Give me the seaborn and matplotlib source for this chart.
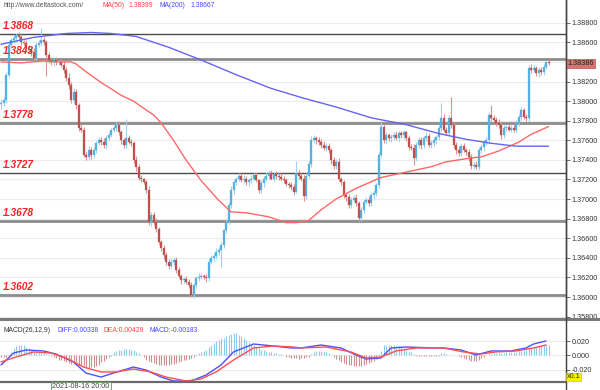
import matplotlib
matplotlib.use("Agg")
import matplotlib.pyplot as plt
import seaborn as sns
import pandas as pd
from matplotlib.lines import Line2D

# ---------------- data ----------------
closes = [
    1.3798, 1.3801, 1.3827, 1.3857, 1.3862, 1.3864, 1.3867, 1.3865, 1.3860, 1.3859,
    1.3855, 1.3852, 1.3850, 1.3844, 1.3857, 1.3859, 1.3862, 1.3860, 1.3847, 1.3842,
    1.3840, 1.3842, 1.3840, 1.3840, 1.3837, 1.3832, 1.3824, 1.3816, 1.3801, 1.3809,
    1.3796, 1.3773, 1.3771, 1.3745, 1.3743, 1.3750, 1.3745, 1.3750, 1.3757, 1.3760,
    1.3758, 1.3755, 1.3762, 1.3765, 1.3771, 1.3773, 1.3776, 1.3768, 1.3760, 1.3755,
    1.3762, 1.3758, 1.3757, 1.3740, 1.3733, 1.3722, 1.3720, 1.3717, 1.3709, 1.3677,
    1.3684, 1.3677, 1.3669, 1.3656, 1.3650, 1.3643, 1.3636, 1.3632, 1.3636, 1.3638,
    1.3628, 1.3622, 1.3617, 1.3618, 1.3615, 1.3612, 1.3602, 1.3612, 1.3619, 1.3621,
    1.3622, 1.3621, 1.3619, 1.3636, 1.3640, 1.3642, 1.3646, 1.3648, 1.3653, 1.3668,
    1.3677, 1.3694, 1.3709, 1.3717, 1.3721, 1.3724, 1.3719, 1.3721, 1.3717, 1.3719,
    1.3721, 1.3725, 1.3719, 1.3709, 1.3716, 1.3721, 1.3724, 1.3727, 1.3721, 1.3726,
    1.3724, 1.3723, 1.3721, 1.3719, 1.3715, 1.3714, 1.3712, 1.3707, 1.3727, 1.3724,
    1.3721, 1.3703, 1.3724, 1.3736, 1.3760, 1.3762, 1.3760, 1.3758, 1.3755, 1.3752,
    1.3754, 1.3750, 1.3740, 1.3734, 1.3738, 1.3720, 1.3717, 1.3704, 1.3702, 1.3694,
    1.3699, 1.3701, 1.3696, 1.3681, 1.3689, 1.3697, 1.3699, 1.3696, 1.3704, 1.3706,
    1.3714, 1.3745, 1.3774, 1.3760, 1.3765, 1.3762, 1.3763, 1.3765, 1.3762, 1.3767,
    1.3765, 1.3768, 1.3762, 1.3753, 1.3752, 1.3742, 1.3755, 1.3760, 1.3755, 1.3762,
    1.3764, 1.3755, 1.3757, 1.3760, 1.3763, 1.3773, 1.3783, 1.3771, 1.3767, 1.3783,
    1.3776, 1.3755, 1.3750, 1.3747, 1.3754, 1.3750, 1.3748, 1.3743, 1.3734, 1.3735,
    1.3733, 1.3750, 1.3753, 1.3758, 1.3760, 1.3786, 1.3783, 1.3781, 1.3778, 1.3776,
    1.3765, 1.3773, 1.3774, 1.3771, 1.3773, 1.3771, 1.3778, 1.3784, 1.3791, 1.3784,
    1.3783, 1.3834, 1.3832, 1.3834, 1.3829, 1.3832, 1.3830, 1.3835, 1.3840, 1.38386,
]
first_open = 1.3797

wick_hi_pips = [
    4, 3, 3, 4, 2, 3, 3, 4, 3, 2, 3, 2, 3, 4, 3, 3, 13, 3, 2, 3,
    3, 2, 3, 2, 3, 4, 3, 5, 3, 4, 3, 2, 4, 3, 3, 4, 3, 3, 2, 3,
    3, 4, 3, 3, 2, 3, 3, 4, 3, 2, 20, 3, 3, 2, 4, 3, 3, 2, 3, 4,
    3, 3, 4, 3, 2, 3, 3, 3, 4, 3, 3, 3, 2, 3, 4, 3, 3, 2, 3, 4,
    3, 2, 3, 4, 3, 3, 4, 3, 3, 2, 3, 3, 4, 3, 2, 3, 3, 4, 3, 3,
    4, 3, 3, 2, 3, 3, 4, 3, 3, 2, 3, 3, 4, 3, 3, 2, 3, 3, 12, 3,
    3, 4, 3, 3, 4, 3, 2, 3, 3, 4, 3, 3, 2, 3, 3, 4, 3, 3, 2, 3,
    3, 3, 4, 2, 3, 3, 3, 4, 3, 3, 2, 3, 5, 3, 3, 2, 3, 3, 4, 3,
    3, 3, 2, 3, 3, 4, 3, 3, 3, 2, 4, 3, 3, 3, 2, 3, 15, 4, 3, 3,
    21, 3, 3, 4, 3, 3, 2, 3, 3, 3, 4, 3, 3, 2, 3, 3, 10, 3, 3, 4,
    3, 3, 2, 3, 3, 4, 3, 3, 3, 2, 3, 3, 4, 3, 2, 3, 3, 3, 2, 2,
]
wick_lo_pips = [
    5, 3, 3, 2, 3, 3, 4, 3, 3, 2, 3, 3, 4, 3, 3, 2, 3, 3, 21, 3,
    3, 4, 3, 3, 2, 3, 3, 4, 3, 3, 4, 3, 3, 2, 3, 3, 4, 3, 3, 2,
    3, 3, 4, 3, 2, 3, 3, 3, 4, 3, 3, 2, 3, 3, 4, 3, 3, 2, 3, 3,
    4, 3, 3, 2, 3, 4, 3, 3, 2, 3, 3, 3, 4, 3, 2, 3, 2, 3, 3, 3,
    3, 3, 4, 3, 2, 3, 3, 3, 17, 3, 3, 2, 3, 4, 3, 3, 2, 3, 3, 4,
    3, 3, 2, 3, 3, 4, 3, 3, 2, 3, 3, 4, 3, 3, 2, 3, 3, 3, 1, 3,
    3, 5, 3, 2, 3, 3, 4, 3, 3, 2, 3, 3, 4, 3, 3, 2, 3, 3, 4, 3,
    3, 2, 3, 4, 3, 3, 2, 3, 3, 4, 3, 3, 2, 3, 3, 3, 4, 3, 2, 3,
    3, 4, 3, 3, 2, 7, 3, 3, 4, 3, 3, 2, 3, 3, 4, 3, 3, 3, 2, 3,
    3, 3, 4, 3, 3, 2, 3, 4, 3, 3, 2, 3, 3, 4, 3, 3, 3, 2, 3, 3,
    4, 3, 3, 2, 3, 3, 4, 3, 3, 2, 3, 3, 3, 2, 3, 4, 3, 3, 2, 2,
]

ma50_idx = [0, 8, 17, 22, 28, 30, 34, 40, 45, 48, 53, 58, 61, 64, 69, 74, 80, 87, 92,
            98, 107, 114, 118, 123, 128, 134, 142, 152, 161, 172, 178, 188, 192,
            199, 207, 212, 219]
ma50_val = [1.3840, 1.3839, 1.3841, 1.3840, 1.3840, 1.3838, 1.3830, 1.3819, 1.3811,
            1.3806, 1.3800, 1.3791, 1.3786, 1.3778, 1.3760, 1.3740, 1.3719, 1.3699, 1.3687,
            1.3686, 1.3682, 1.3676, 1.3676, 1.3678, 1.3689, 1.3700, 1.3711, 1.3722,
            1.3727, 1.3733, 1.3738, 1.3742, 1.3743, 1.3749, 1.3758, 1.3766, 1.3774]

ma200_idx = [0, 13, 26, 36, 44, 54, 67, 80, 94, 108, 121, 134, 148, 162, 175, 186,
             196, 206, 219]
ma200_val = [1.3858, 1.3865, 1.3869, 1.3870, 1.3869, 1.3866, 1.3855, 1.3842, 1.3827,
             1.3813, 1.3803, 1.3794, 1.3783, 1.3776, 1.3767, 1.3761, 1.3757, 1.3754,
             1.3754]

diff_idx = [0, 5, 10, 17, 22, 29, 34, 40, 45, 53, 58, 64, 69, 76, 82, 88, 93, 101,
            109, 116, 120, 128, 136, 142, 146, 152, 156, 162, 173, 177, 184, 190,
            196, 204, 210, 213, 218]
diff_val = [-0.0137, 0.0032, 0.0075, 0.0061, 0.0018, -0.0094, -0.0250, -0.0306,
            -0.0250, -0.0165, -0.0207, -0.0306, -0.0362, -0.0362, -0.0278, -0.0137,
            0.0047, 0.0159, 0.0131, 0.0103, 0.0103, 0.0145, 0.0103, 0.0004, -0.0052,
            -0.0038, 0.0103, 0.0117, 0.0103, 0.0103, 0.0075, 0.0004, 0.0061, 0.0061,
            0.0103, 0.0159, 0.0202]

dea_idx = [0, 6, 13, 20, 26, 33, 40, 46, 53, 60, 66, 74, 80, 86, 93, 101, 109, 117,
           120, 130, 140, 146, 152, 158, 166, 177, 185, 192, 198, 206, 213, 218]
dea_val = [-0.0094, -0.0024, 0.0047, 0.0032, -0.0038, -0.0165, -0.0235, -0.0235,
           -0.0193, -0.0235, -0.0306, -0.0362, -0.0334, -0.0235, -0.0066, 0.0103,
           0.0131, 0.0117, 0.0103, 0.0117, 0.0047, -0.0038, -0.0024, 0.0061, 0.0103,
           0.0103, 0.0047, 0.0018, 0.0047, 0.0061, 0.0103, 0.0145]

# MACD histogram per candle, in thousandths of the panel's axis units
macd_hist = [
    -3, -3, -3, -3, 4, 10, 13, 15, 15, 14, 12, 10, 7, 4, 3, 3, 3, 3, 2, 1,
    -1, -2, -4, -6, -7, -8, -10, -11, -12, -12, -13, -14, -15, -15, -17, -18, -17, -16, -15, -13,
    -10, -8, -5, -2, -1, 4, 6, 8, 8, 9, 9, 9, 8, 7, 5, 3, 1, -2, -6, -8,
    -10, -11, -12, -13, -13, -13, -13, -13, -12, -12, -11, -9, -8, -7, -6, -5, -4, -3, 2, 3,
    5, 6, 8, 11, 14, 17, 20, 22, 24, 25, 27, 28, 30, 31, 31, 29, 27, 25, 22, 19,
    16, 14, 12, 10, 8, 7, 6, 5, 4, 3, 3, 2, 2, 1, -2, -3, -4, -4, -4, -5,
    -4, -4, -3, -2, 2, 5, 6, 6, 6, 5, 5, 3, 1, -3, -5, -7, -9, -11, -12, -13,
    -14, -15, -15, -15, -15, -14, -12, -11, -9, -8, -5, -2, 6, 15, 15, 15, 14, 14, 13, 13,
    12, 10, 8, 6, 4, 2, -1, -1, -1, -1, -1, -1, -1, -1, -1, -1, 3, 3, 2, 1,
    1, 1, 1, -1, -3, -4, -5, -6, -8, -8, -8, -6, -4, -2, 1, 2, 2, 3, 3, 3,
    3, 3, 4, 4, 4, 5, 5, 6, 6, 7, 8, 9, 10, 11, 12, 13, 13, 14, 14, 14,
]

levels = [1.3868, 1.3843, 1.3778, 1.3727, 1.3678, 1.3602]
level_labels = ["1.3868", "1.3843", "1.3778", "1.3727", "1.3678", "1.3602"]
level_dark = [True, False, False, True, False, False]

price_ticks = [1.358, 1.360, 1.362, 1.364, 1.366, 1.368, 1.370, 1.372, 1.374,
               1.376, 1.378, 1.380, 1.382, 1.384, 1.386, 1.388]
# 1.38400 sits under the last-price tag in the reference, so it is not shown
price_tick_labels = ["1.35800", "1.36000", "1.36200", "1.36400", "1.36600", "1.36800",
                     "1.37000", "1.37200", "1.37400", "1.37600", "1.37800", "1.38000",
                     "1.38200", "", "1.38600", "1.38800"]
macd_ticks = [0.02, 0.0, -0.02]
macd_tick_labels = ["0.020", "0.000", "-0.020"]

last_price_label = "1.38386"
site = "http://www.deltastock.com/"
ma50_text, ma50_num = "MA(50)", "1.38399"
ma200_text, ma200_num = "MA(200)", "1.38667"
macd_name = "MACD(26,12,9)"
diff_text, dea_text, macd_text = "DIFF:0.00338", "DEA:0.00429", "MACD:-0.00183"
date_text = "2021-08-16 20:00"

# ---------------- style ----------------
sns.set_style("white")
plt.rcParams["font.family"] = ["Liberation Sans", "DejaVu Sans"]

W, H = 600, 390
fig = plt.figure(figsize=(6, 3.9), dpi=100)
fig.patch.set_facecolor("white")

def fx(px):
    return px / W

def fy(py):
    return 1 - py / H

PLOT_R = 566
ax = fig.add_axes([0, fy(321), fx(PLOT_R), 321 / H])
axm = fig.add_axes([0, fy(382), fx(PLOT_R), 60 / H])

n = len(closes)
idx = list(range(n))
opens = [first_open] + closes[:-1]
highs = [max(o, c) + h * 0.0001 for o, c, h in zip(opens, closes, wick_hi_pips)]
lows = [min(o, c) - l * 0.0001 for o, c, l in zip(opens, closes, wick_lo_pips)]
df = pd.DataFrame({"i": idx, "open": opens, "close": closes, "high": highs, "low": lows})
df["up"] = df["close"] >= df["open"]

BLUE_BODY, BLUE_WICK = "#56b0e0", "#9fd2ef"
RED_BODY, RED_WICK = "#c0504e", "#d99593"

ymin = 1.388 - (321 - 22.7) / 9800
ymax = 1.388 + 22.7 / 9800
xmin = (0 - 1) / 2.5
xmax = (PLOT_R - 1) / 2.5

# grid
for t in price_ticks:
    ax.axhline(t, color="#ececec", lw=0.8, zorder=0)

# level lines
for lv, lab, dark in zip(levels, level_labels, level_dark):
    if dark:
        ax.axhline(lv, color="#4a4a4a", lw=1.0, zorder=1)
    else:
        ax.axhline(lv, color="#8c8c8c", lw=2.0, zorder=1)
    ax.text(xmin + 1.2, lv + 0.00032, lab, color="#ff2020", fontsize=7.3,
            fontweight="bold", fontstyle="italic", va="bottom", ha="left", zorder=6)

# candles
for up, body, wick in [(True, BLUE_BODY, BLUE_WICK), (False, RED_BODY, RED_WICK)]:
    sub = df[df["up"] == up]
    ax.vlines(sub["i"], sub["low"], sub["high"], colors=wick, lw=0.8, zorder=2)
    h = (sub["close"] - sub["open"]).abs().clip(lower=0.00004)
    ax.bar(sub["i"], h, bottom=sub[["open", "close"]].min(axis=1), width=0.8,
           color=body, edgecolor=body, linewidth=0.2, zorder=3)

# moving averages
sns.lineplot(x=ma50_idx, y=ma50_val, ax=ax, color="#ff6868", lw=1.0, zorder=4,
             estimator=None, sort=False)
sns.lineplot(x=ma200_idx, y=ma200_val, ax=ax, color="#6464f5", lw=1.0, zorder=4,
             estimator=None, sort=False)

ax.set_xlim(xmin, xmax)
ax.set_ylim(ymin, ymax)
ax.set_xticks([])
ax.yaxis.tick_right()
ax.set_yticks(price_ticks)
ax.set_yticklabels(price_tick_labels, fontsize=5.2, color="#333333")
ax.tick_params(axis="y", direction="out", length=3, width=0.6, color="#555555", pad=1)
for s in ["top", "left", "bottom"]:
    ax.spines[s].set_visible(False)
ax.spines["right"].set_color("#444444")
ax.spines["right"].set_linewidth(1.0)
ax.set_ylabel("")

# last price tag
ax.text(1.002, (closes[-1] - ymin) / (ymax - ymin), last_price_label,
        transform=ax.transAxes, fontsize=5.2, color="#222222", va="center", ha="left",
        bbox=dict(boxstyle="square,pad=0.15", fc="#e07070", ec="#c05050", lw=0.5),
        zorder=10, clip_on=False)

# ---------------- MACD panel ----------------
mtop = (355.3 - 322) / 14.2 * 0.02
mbot = (355.3 - 382) / 14.2 * 0.02
for t in macd_ticks:
    axm.axhline(t, color="#ececec", lw=0.8, zorder=0)
hist_vals = [v / 1000 for v in macd_hist]
pos = [(i, v) for i, v in zip(idx, hist_vals) if v >= 0]
neg = [(i, v) for i, v in zip(idx, hist_vals) if v < 0]
axm.vlines([p[0] for p in pos], 0, [p[1] for p in pos], colors="#8ccbec", lw=0.8, zorder=2)
axm.vlines([p[0] for p in neg], 0, [p[1] for p in neg], colors="#cf8f8f", lw=0.8, zorder=2)
sns.lineplot(x=diff_idx, y=diff_val, ax=axm, color="#5050ff", lw=1.0, zorder=4,
             estimator=None, sort=False)
sns.lineplot(x=dea_idx, y=dea_val, ax=axm, color="#ff5050", lw=1.0, zorder=4,
             estimator=None, sort=False)
axm.set_xlim(xmin, xmax)
axm.set_ylim(mbot, mtop)
axm.set_xticks([])
axm.yaxis.tick_right()
axm.set_yticks(macd_ticks)
axm.set_yticklabels(macd_tick_labels, fontsize=5.2, color="#333333")
axm.tick_params(axis="y", direction="out", length=3, width=0.6, color="#555555", pad=1)
for s in ["top", "left", "bottom"]:
    axm.spines[s].set_visible(False)
axm.spines["right"].set_color("#444444")
axm.set_ylabel("")

# ---------------- frame lines & texts ----------------
fig.add_artist(Line2D([0, 1], [fy(319), fy(319)], color="#7a7a7a", lw=2.2))
fig.add_artist(Line2D([0, fx(PLOT_R)], [fy(381.5), fy(381.5)], color="#6a6a6a", lw=1.6))
fig.add_artist(Line2D([fx(PLOT_R), fx(PLOT_R)], [0, 1], color="#444444", lw=1.0))

fig.text(fx(3), fy(5.5), site, fontsize=4.9, color="#555555", va="center", ha="left")
fig.text(fx(102), fy(5.5), ma50_text, fontsize=4.9, color="#ff4040", va="center")
fig.text(fx(128), fy(5.5), ma50_num, fontsize=4.9, color="#ff4040", va="center")
fig.text(fx(159), fy(5.5), ma200_text, fontsize=4.9, color="#4848ff", va="center")
fig.text(fx(190), fy(5.5), ma200_num, fontsize=4.9, color="#4848ff", va="center")

fig.text(fx(3), fy(330), macd_name, fontsize=4.9, color="#333333", va="center")
fig.text(fx(57), fy(330), diff_text, fontsize=4.9, color="#4848ff", va="center")
fig.text(fx(104), fy(330), dea_text, fontsize=4.9, color="#ff4040", va="center")
fig.text(fx(150), fy(330), macd_text, fontsize=4.9, color="#4848ff", va="center")

fig.text(fx(567), fy(377), "x0.1", fontsize=5.2, color="#333333", va="center", ha="left",
         bbox=dict(boxstyle="square,pad=0.1", fc="#f5f000", ec="#c8c000", lw=0.4))
fig.text(fx(52), fy(386.5), date_text, fontsize=5.2, color="#444444", va="center", ha="left",
         bbox=dict(boxstyle="square,pad=0.2", fc="white", ec="#5aa05a", lw=0.6))

fig.savefig("out.png", dpi=100, facecolor="white")
